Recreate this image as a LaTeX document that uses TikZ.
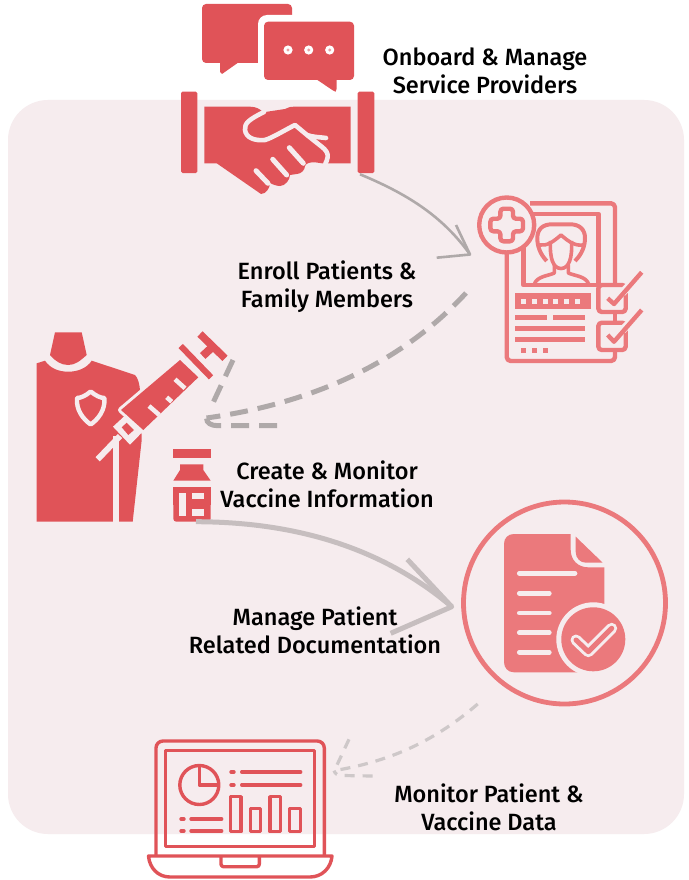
\documentclass[tikz,border=0pt]{standalone}
\usepackage{fontspec}
\setmainfont{Fira Sans Medium}
\definecolor{bgpink}{HTML}{F6ECEE}
\definecolor{iconred}{HTML}{E05358}
\definecolor{iconlight}{HTML}{EB797C}
\definecolor{greyA}{HTML}{AFA9A9}
\definecolor{greyB}{HTML}{C6BEBF}
\definecolor{greyC}{HTML}{CEC8C9}
\tikzset{
  lab/.style={font=\fontsize{23.5}{28}\selectfont,align=center,text=black,inner sep=0pt},
  gapline/.style={draw=bgpink,line cap=round,line join=round},
  lightline/.style={draw=iconlight,line width=4.4pt,line join=round},
  lapline/.style={draw=iconred,line width=3.4pt,line join=round},
  flow1/.style={draw=greyA,line width=2.6pt,line join=round},
  flow2/.style={draw=greyA,line width=5pt,dash pattern=on 18pt off 10pt},
  flow3/.style={draw=greyB,line width=5pt,line join=round},
  flow4/.style={draw=greyC,line width=3.2pt,dash pattern=on 10pt off 8pt},
}
\begin{document}
\begin{tikzpicture}[x=1pt,y=-1pt]
\useasboundingbox (0,0) rectangle (688,880);
\fill[white] (0,0) rectangle (688,880);
\fill[bgpink,rounded corners=40pt] (8,100) rectangle (684,834);

% ---- speech bubbles
\fill[iconred,rounded corners=4pt] (202,4) -- (292,4) -- (292,63) -- (202,63) -- cycle;
\fill[iconred,line join=round] (220,60) -- (220,72) -- (222,74) -- (239,62) -- cycle;
\fill[white,rounded corners=9pt] (258,15) -- (360,15) -- (360,86) -- (258,86) -- cycle;
\fill[white] (280,64) rectangle (292,70);
\fill[iconred,rounded corners=4pt] (264,21.7) -- (354,21.7) -- (354,80) -- (264,80) -- cycle;
\fill[iconred] (316,79) -- (333,90.5) -- (335.7,91.7) -- (336.5,89) -- (336.5,79) -- cycle;
\foreach \dx in {288,308.7,329.7}{
  \fill[white] (\dx,50) circle (4.6pt);
  \fill[iconred!55!white] (\dx,50) circle (1.6pt);
}

% ---- handshake
\fill[iconred,rounded corners=1.5pt] (181,91.7) rectangle (197.3,173);
\fill[iconred,rounded corners=1.5pt] (357.7,91.7) rectangle (374.3,173);
\fill[iconred] (204.3,106.7) -- (250,106.7) .. controls (256,106.7) and (260,109) .. (263.3,112.3)
  -- (285,109) .. controls (288,107) and (291,106.7) .. (295,106.7) -- (350.7,106.7) -- (350.7,163.3) -- (322,163.3)
  -- (315,162.3) .. controls (311,162) and (306,163) .. (305,166) .. controls (305,170) and (301,174) .. (296.7,174)
  -- (290,175) .. controls (290,180) and (285,186) .. (280,186) .. controls (276,186) and (272,184) .. (270,183)
  .. controls (270,188) and (266,194) .. (261,194) -- (216.7,163.3) -- (204.3,163.3) -- cycle;
\draw[gapline,line width=4.6pt] (264,112) .. controls (250,119) and (244,123) .. (245,130)
  .. controls (246,138) and (255,141) .. (265,140) .. controls (272,138) and (285,130) .. (295,125)
  -- (307,135) .. controls (312,137) and (318,137) .. (326,138);
\draw[gapline,line width=4.6pt,line cap=butt] (307,135) -- (321.7,146.7) .. controls (326,150) and (328,153) .. (327.7,157)
  .. controls (327.5,160) and (326,162) .. (325,164.5);
\draw[gapline,line width=5pt] (256,170.7) -- (268,183.3);
\draw[gapline,line width=5pt] (272.7,159.3) -- (286.7,175);
\draw[gapline,line width=5pt] (289.3,147.7) -- (303.3,163.3);

% ---- patient record
\draw[lightline,rounded corners=4pt] (530,203.3) -- (615,203.3) -- (615,285);
\draw[lightline,rounded corners=4pt] (615,347) -- (615,361) -- (506.7,361) -- (506.7,250);
\draw[lightline] (528,213.7) -- (598.3,213.7) -- (598.3,285);
\draw[lightline] (523.3,245) -- (523.3,285) -- (598.3,285);
\draw[lightline,fill=bgpink] (506.7,225) circle (27.5pt);
\draw[lightline,rounded corners=3pt] (500.4,208.7) -- (513,208.7) -- (513,218.7) -- (523,218.7) -- (523,231.3) -- (513,231.3) -- (513,241.3) -- (500.4,241.3) -- (500.4,231.3) -- (490.4,231.3) -- (490.4,218.7) -- (500.4,218.7) -- cycle;
% person
\draw[lightline,line width=4pt] (546.7,261) .. controls (540,254) and (537.3,246) .. (537.3,238)
  .. controls (537.3,229) and (543,224.3) .. (552,224.3) -- (570,224.3)
  .. controls (579,224.3) and (585,229) .. (585,238) .. controls (585,246) and (582,254) .. (575,261);
\draw[lightline,line width=3.6pt] (540,245) .. controls (547,246) and (553,242) .. (561,235) .. controls (569,242) and (575,246) .. (583,245);
\draw[lightline,line width=3.6pt] (550.5,241) .. controls (549.5,258) and (553,268.5) .. (561,268.5) .. controls (569,268.5) and (572.5,258) .. (571.5,241);
\draw[lightline,line width=3.6pt] (554.3,265) -- (554.3,273) .. controls (548,276) and (538,276) .. (534.5,283.5);
\draw[lightline,line width=3.6pt] (568.3,265) -- (568.3,273) .. controls (575,276) and (585,276) .. (588.5,283.5);
% text rows
\fill[iconlight] (515,293.3) rectangle (590.7,309.3);
\foreach \sx in {520.7,531.7,542.7,553.3,564,575}{\fill[bgpink] (\sx,299) rectangle ++(5,5);}
\fill[iconlight] (515,315) rectangle (546.7,320);
\fill[iconlight] (552.7,315) rectangle (585,320);
\fill[iconlight] (515,325.7) rectangle (585,330.7);
\fill[iconlight] (515,336.7) rectangle (585,341.7);
\foreach \sx in {520.7,531.7,542.7}{\fill[iconlight] (\sx,347.7) rectangle ++(5,5);}
% check boxes
\draw[lightline,rounded corners=3.5pt,fill=bgpink] (598.3,285) rectangle (625.7,312);
\draw[lightline,rounded corners=3.5pt,fill=bgpink] (598.3,322.7) rectangle (625.7,350);
\draw[lightline] (615,312) -- (615,322.7);
\draw[bgpink,line width=8pt] (622,293) -- (631,284);
\draw[bgpink,line width=8pt] (622,330.5) -- (631,321.5);
\draw[lightline] (607.7,298.3) -- (614,304) -- (641.7,272.3);
\draw[lightline] (607.7,335) -- (614,341.7) -- (641.7,310);

% ---- person with syringe
\fill[iconred] (55,332.3) -- (81.7,332.3) -- (86.7,355) .. controls (80,361) and (75,365) .. (68.3,365) .. controls (61,365) and (55,361) .. (50,355) -- cycle;
\fill[iconred] (36.7,363.3) -- (45,360.7) .. controls (50,368) and (58,371.7) .. (68.3,371.7) .. controls (78,371.7) and (87,368) .. (91.7,360.7)
  -- (135,375) .. controls (138,378) and (139.5,384) .. (140,390) -- (141.7,440) -- (132.7,521.7) -- (36.7,521.7) -- cycle;
\draw[bgpink,line width=6pt] (116.3,436) -- (116.3,523);
% shield
\draw[gapline,line width=4.4pt] (90.7,391.5) .. controls (86,395.5) and (81,398) .. (77,398)
  .. controls (76,410) and (83,419) .. (90.7,424.5)
  .. controls (98.4,419) and (105.4,410) .. (104.4,398)
  .. controls (100.4,398) and (95.4,395.5) .. (90.7,391.5) -- cycle;
% syringe
\draw[bgpink,line width=6pt,line join=round] (121,410) -- (180,360) -- (198.3,377.3) -- (143.3,430) -- cycle;
\fill[iconred] (121,410) -- (180,360) -- (198.3,377.3) -- (143.3,430) -- cycle;
\draw[bgpink,line width=4.5pt] (185,388.3) -- (175,379.3);
\draw[bgpink,line width=4.5pt] (171.7,401.7) -- (166.7,397.3);
\draw[bgpink,line width=4.5pt] (159.3,415) -- (149,406);
\fill[bgpink] (113,426.7) -- (126,414.7) -- (142.7,431.7) -- (130,444.7) -- cycle;
\fill[iconred] (121.7,427.3) -- (126.7,422.7) -- (134,430) -- (128.3,435) -- cycle;
\draw[bgpink,line width=6pt] (97.7,459.3) -- (120,436);
\draw[iconred,line width=6pt] (180.7,346) -- (211,377.3);
\draw[iconred,line width=7.5pt] (200,334) -- (225,358.3);
\draw[iconred,line width=8pt] (212.7,346.7) -- (202.7,356);

% ---- vial
\fill[iconred] (173.3,449.3) rectangle (210.7,458.3);
\fill[iconred] (180,464.3) -- (203.3,464.3) -- (203.3,470) -- (210.7,480.7) -- (173.3,480.7) -- (180,470) -- cycle;
\fill[iconred,rounded corners=3pt] (173.3,500) -- (173.3,521.7) -- (210.7,521.7) -- (210.7,500) -- cycle;
\fill[iconred] (173.3,486.7) rectangle (210.7,505);
\fill[bgpink] (179.3,492.7) rectangle (185.7,515.7);
\fill[bgpink] (191.7,492.7) rectangle (204.3,499);
\fill[bgpink] (191.7,509.3) rectangle (204.3,515.7);

% ---- document in ring
\draw[draw=iconlight,line width=4.8pt] (564.5,603) circle (101pt);
\fill[iconlight] (514,534) -- (570.7,534) -- (570.7,550) .. controls (570.7,560) and (578,567.3) .. (588,567.3)
  -- (604.3,567.3) -- (604.3,620) -- (580,672.3) -- (514,672.3)
  .. controls (508,672.3) and (504,668) .. (504,662) -- (504,544) .. controls (504,538) and (508,534) .. (514,534) -- cycle;
\fill[iconlight] (575.7,536.7) -- (602.7,562.7) -- (586,562.7) .. controls (580,562.7) and (575.7,558) .. (575.7,552) -- cycle;
\draw[gapline,line width=4.7pt] (519.3,573.3) -- (575,573.3);
\foreach \ly in {593.3,613,632.7,652.3}{\draw[gapline,line width=4.7pt] (519.3,\ly) -- (549.3,\ly);}
\fill[bgpink] (593.3,639.3) circle (37pt);
\fill[iconlight] (593.3,639.3) circle (32pt);
\draw[draw=bgpink,line width=11pt,line cap=round,line join=round] (576,640) -- (588.3,651.7) -- (611.7,628.3);
\draw[draw=iconlight,line width=5pt,line cap=round,line join=round] (576,640) -- (588.3,651.7) -- (611.7,628.3);

% ---- laptop
\draw[lapline,rounded corners=7pt] (156,856) -- (156,741) -- (324.3,741) -- (324.3,856);
\draw[lapline] (165.7,750.7) rectangle (314.7,846.7);
\draw[lapline] (199.3,785) circle (19.5pt);
\draw[lapline] (199.3,765.5) -- (199.3,785) -- (219,785);
\foreach \ly in {772,785}{
  \draw[lapline,line cap=round] (231,\ly) -- (234,\ly);
  \draw[lapline,line cap=round] (241.7,\ly) -- (300.7,\ly);
}
\foreach \ly in {819,831}{
  \draw[lapline,line cap=round] (181,\ly) -- (184,\ly);
  \draw[lapline,line cap=round] (191,\ly) -- (221.7,\ly);
}
\draw[lapline] (230.7,796.7) rectangle (241,831.7);
\draw[lapline] (250.7,808.3) rectangle (260.7,831.7);
\draw[lapline] (270,796.7) rectangle (280.7,831.7);
\draw[lapline] (289.3,808.3) rectangle (300.7,831.7);
\draw[lapline] (148.5,856) -- (332,856) .. controls (331,868) and (322,877) .. (310,877) -- (170,877) .. controls (158,877) and (149.5,868) .. (148.5,856) -- cycle;
\draw[lapline,rounded corners=2.5pt] (221,856) -- (221,866.7) -- (259.3,866.7) -- (259.3,856);

% ---- connector end points
\coordinate (handshakeEnd) at (360,174.3);
\coordinate (recordTip) at (470,254.5);
\coordinate (recordBarbA) at (456,225);
\coordinate (recordBarbB) at (436.7,257.7);
\coordinate (recordEnd) at (466,293);
\coordinate (syringeTip) at (206.5,418);
\coordinate (syringeBarbA) at (233,360);
\coordinate (syringeBarbB) at (277,425.7);
\coordinate (vialEnd) at (196,521.7);
\coordinate (docTip) at (451.7,606.7);
\coordinate (docBarbA) at (407.3,559.3);
\coordinate (docBarbB) at (390.7,633.3);
\coordinate (docEnd) at (477.7,704);
\coordinate (laptopTip) at (334,770.7);
\coordinate (laptopBarbA) at (349,739.3);
\coordinate (laptopBarbB) at (372.7,776);

% ---- connectors
\draw[flow1] (handshakeEnd) .. controls (405,193) and (442,215) .. (recordTip);
\draw[flow1] (recordBarbA) -- (recordTip) -- (recordBarbB);
\draw[flow2] (recordEnd) .. controls (395,370) and (300,405) .. (syringeTip);
\draw[flow2] (syringeBarbA) -- (212,405);
\draw[flow2] (syringeBarbB) -- (218,425.7) .. controls (211,425.7) and (206.5,423) .. (syringeTip);
\draw[flow3] (vialEnd) .. controls (300,522) and (385,550) .. (docTip);
\draw[flow3] (docBarbA) -- (docTip) -- (docBarbB);
\draw[flow4] (docEnd) .. controls (430,745) and (385,762) .. (laptopTip);
\draw[flow4] (laptopBarbA) -- (337,765);
\draw[flow4] (laptopBarbB) -- (342,775.5) .. controls (338,775.5) and (335,774) .. (laptopTip);

% ---- labels
\node[lab] (onboard) at (485,71) {Onboard \& Manage\\Service Providers};
\node[lab] (enroll) at (327,287) {Enroll Patients \&\\Family Members};
\node[lab] (create) at (327,484) {Create \& Monitor\\Vaccine Information};
\node[lab] (manage) at (315,630) {Manage Patient\\Related Documentation};
\node[lab] (monitor) at (489,807) {Monitor Patient \&\\Vaccine Data};
\end{tikzpicture}
\end{document}
